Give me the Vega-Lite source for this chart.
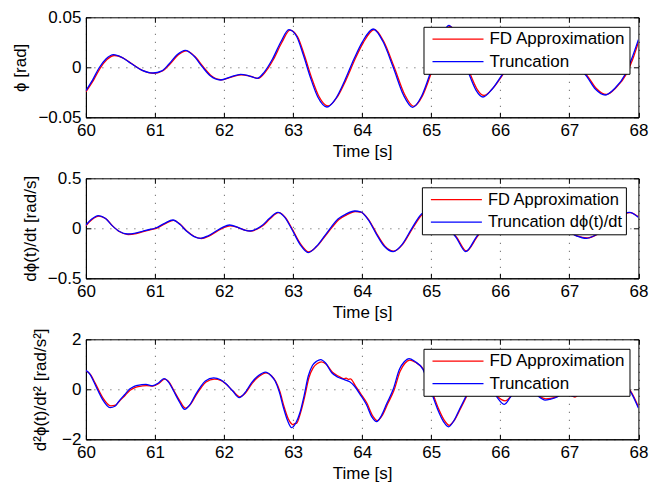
{
  "$schema": "https://vega.github.io/schema/vega-lite/v6.json",
  "autosize": {"type": "pad"},
  "padding": {"left": 10.9, "top": 7.3, "right": 5, "bottom": 5},
  "background": "white",
  "config": {
    "font": "Liberation Sans",
    "view": {"stroke": "black", "strokeWidth": 1},
    "axis": {
      "labelFont": "Liberation Sans", "labelFontSize": 17, "labelColor": "black", "labelFlush": false,
      "titleFont": "Liberation Sans", "titleFontSize": 17, "titleColor": "black", "titleFontWeight": 400,
      "domainColor": "black", "tickColor": "black", "tickSize": -5, "labelPadding": 10,
      "grid": true, "gridColor": "#000000", "gridOpacity": 0.7, "gridDash": [1, 7], "gridWidth": 1
    },
    "legend": {
      "orient": "none", "legendX": 337.6, "legendY": 9.5,
      "fillColor": "white", "strokeColor": "black", "padding": 3,
      "symbolType": "stroke", "symbolSize": 2601, "symbolStrokeWidth": 1.3,
      "symbolOffset": 5, "labelOffset": 5, "clipHeight": 18.5, "rowPadding": 3.5,
      "labelFont": "Liberation Sans", "labelFontSize": 17, "labelColor": "black", "labelLimit": 400
    }
  },
  "datasets": {
    "p1": [
      {"t":60.00,"v":-0.0245,"s":"FD Approximation"},{"t":60.115,"v":-0.0123,"s":"FD Approximation"},{"t":60.205,"v":-0.0010,"s":"FD Approximation"},{"t":60.305,"v":0.0078,"s":"FD Approximation"},{"t":60.415,"v":0.0118,"s":"FD Approximation"},{"t":60.535,"v":0.0095,"s":"FD Approximation"},{"t":60.665,"v":0.0035,"s":"FD Approximation"},{"t":60.815,"v":-0.0030,"s":"FD Approximation"},{"t":60.985,"v":-0.0060,"s":"FD Approximation"},{"t":61.115,"v":-0.0035,"s":"FD Approximation"},{"t":61.215,"v":0.0030,"s":"FD Approximation"},{"t":61.335,"v":0.0122,"s":"FD Approximation"},{"t":61.455,"v":0.0165,"s":"FD Approximation"},{"t":61.575,"v":0.0110,"s":"FD Approximation"},{"t":61.695,"v":0.0008,"s":"FD Approximation"},{"t":61.815,"v":-0.0085,"s":"FD Approximation"},{"t":61.965,"v":-0.0125,"s":"FD Approximation"},{"t":62.115,"v":-0.0095,"s":"FD Approximation"},{"t":62.255,"v":-0.0075,"s":"FD Approximation"},{"t":62.375,"v":-0.0088,"s":"FD Approximation"},{"t":62.495,"v":-0.0110,"s":"FD Approximation"},{"t":62.595,"v":-0.0050,"s":"FD Approximation"},{"t":62.715,"v":0.0078,"s":"FD Approximation"},{"t":62.835,"v":0.0245,"s":"FD Approximation"},{"t":62.955,"v":0.0372,"s":"FD Approximation"},{"t":63.065,"v":0.0305,"s":"FD Approximation"},{"t":63.165,"v":0.0118,"s":"FD Approximation"},{"t":63.265,"v":-0.0098,"s":"FD Approximation"},{"t":63.375,"v":-0.0292,"s":"FD Approximation"},{"t":63.505,"v":-0.0387,"s":"FD Approximation"},{"t":63.635,"v":-0.0302,"s":"FD Approximation"},{"t":63.765,"v":-0.0128,"s":"FD Approximation"},{"t":63.895,"v":0.0078,"s":"FD Approximation"},{"t":64.015,"v":0.0245,"s":"FD Approximation"},{"t":64.175,"v":0.0378,"s":"FD Approximation"},{"t":64.315,"v":0.0255,"s":"FD Approximation"},{"t":64.465,"v":0.0000,"s":"FD Approximation"},{"t":64.615,"v":-0.0272,"s":"FD Approximation"},{"t":64.745,"v":-0.0390,"s":"FD Approximation"},{"t":64.875,"v":-0.0283,"s":"FD Approximation"},{"t":64.995,"v":-0.0068,"s":"FD Approximation"},{"t":65.115,"v":0.0195,"s":"FD Approximation"},{"t":65.275,"v":0.0410,"s":"FD Approximation"},{"t":65.415,"v":0.0245,"s":"FD Approximation"},{"t":65.565,"v":-0.0068,"s":"FD Approximation"},{"t":65.665,"v":-0.0220,"s":"FD Approximation"},{"t":65.765,"v":-0.0282,"s":"FD Approximation"},{"t":65.895,"v":-0.0208,"s":"FD Approximation"},{"t":66.045,"v":-0.0065,"s":"FD Approximation"},{"t":66.215,"v":0.0125,"s":"FD Approximation"},{"t":66.415,"v":0.0255,"s":"FD Approximation"},{"t":66.615,"v":0.0245,"s":"FD Approximation"},{"t":66.815,"v":0.0118,"s":"FD Approximation"},{"t":67.015,"v":0.0055,"s":"FD Approximation"},{"t":67.135,"v":0.0000,"s":"FD Approximation"},{"t":67.255,"v":-0.0080,"s":"FD Approximation"},{"t":67.395,"v":-0.0215,"s":"FD Approximation"},{"t":67.535,"v":-0.0272,"s":"FD Approximation"},{"t":67.675,"v":-0.0205,"s":"FD Approximation"},{"t":67.825,"v":-0.0068,"s":"FD Approximation"},{"t":67.915,"v":0.0075,"s":"FD Approximation"},{"t":68.00,"v":0.0250,"s":"FD Approximation"},
      {"t":60.00,"v":-0.0233,"s":"Truncation"},{"t":60.10,"v":-0.0123,"s":"Truncation"},{"t":60.19,"v":-0.0007,"s":"Truncation"},{"t":60.29,"v":0.0083,"s":"Truncation"},{"t":60.40,"v":0.0127,"s":"Truncation"},{"t":60.52,"v":0.0100,"s":"Truncation"},{"t":60.65,"v":0.0040,"s":"Truncation"},{"t":60.80,"v":-0.0025,"s":"Truncation"},{"t":60.97,"v":-0.0057,"s":"Truncation"},{"t":61.10,"v":-0.0035,"s":"Truncation"},{"t":61.20,"v":0.0030,"s":"Truncation"},{"t":61.32,"v":0.0125,"s":"Truncation"},{"t":61.44,"v":0.0170,"s":"Truncation"},{"t":61.56,"v":0.0115,"s":"Truncation"},{"t":61.68,"v":0.0010,"s":"Truncation"},{"t":61.80,"v":-0.0085,"s":"Truncation"},{"t":61.95,"v":-0.0127,"s":"Truncation"},{"t":62.10,"v":-0.0095,"s":"Truncation"},{"t":62.24,"v":-0.0070,"s":"Truncation"},{"t":62.36,"v":-0.0085,"s":"Truncation"},{"t":62.48,"v":-0.0110,"s":"Truncation"},{"t":62.58,"v":-0.0050,"s":"Truncation"},{"t":62.70,"v":0.0080,"s":"Truncation"},{"t":62.82,"v":0.0250,"s":"Truncation"},{"t":62.94,"v":0.0377,"s":"Truncation"},{"t":63.05,"v":0.0310,"s":"Truncation"},{"t":63.15,"v":0.0120,"s":"Truncation"},{"t":63.25,"v":-0.0100,"s":"Truncation"},{"t":63.36,"v":-0.0300,"s":"Truncation"},{"t":63.49,"v":-0.0397,"s":"Truncation"},{"t":63.62,"v":-0.0310,"s":"Truncation"},{"t":63.75,"v":-0.0130,"s":"Truncation"},{"t":63.88,"v":0.0080,"s":"Truncation"},{"t":64.00,"v":0.0250,"s":"Truncation"},{"t":64.16,"v":0.0383,"s":"Truncation"},{"t":64.30,"v":0.0260,"s":"Truncation"},{"t":64.45,"v":0.0000,"s":"Truncation"},{"t":64.60,"v":-0.0280,"s":"Truncation"},{"t":64.73,"v":-0.0400,"s":"Truncation"},{"t":64.86,"v":-0.0290,"s":"Truncation"},{"t":64.98,"v":-0.0070,"s":"Truncation"},{"t":65.10,"v":0.0200,"s":"Truncation"},{"t":65.26,"v":0.0420,"s":"Truncation"},{"t":65.40,"v":0.0250,"s":"Truncation"},{"t":65.55,"v":-0.0070,"s":"Truncation"},{"t":65.65,"v":-0.0230,"s":"Truncation"},{"t":65.75,"v":-0.0297,"s":"Truncation"},{"t":65.88,"v":-0.0220,"s":"Truncation"},{"t":66.03,"v":-0.0070,"s":"Truncation"},{"t":66.20,"v":0.0130,"s":"Truncation"},{"t":66.40,"v":0.0260,"s":"Truncation"},{"t":66.60,"v":0.0250,"s":"Truncation"},{"t":66.80,"v":0.0120,"s":"Truncation"},{"t":67.00,"v":0.0060,"s":"Truncation"},{"t":67.12,"v":0.0000,"s":"Truncation"},{"t":67.24,"v":-0.0080,"s":"Truncation"},{"t":67.38,"v":-0.0220,"s":"Truncation"},{"t":67.52,"v":-0.0277,"s":"Truncation"},{"t":67.66,"v":-0.0210,"s":"Truncation"},{"t":67.81,"v":-0.0070,"s":"Truncation"},{"t":67.90,"v":0.0080,"s":"Truncation"},{"t":68.00,"v":0.0277,"s":"Truncation"}
    ],
    "p2": [
      {"t":60.00,"v":0.025,"s":"FD Approximation"},{"t":60.09,"v":0.088,"s":"FD Approximation"},{"t":60.19,"v":0.122,"s":"FD Approximation"},{"t":60.29,"v":0.095,"s":"FD Approximation"},{"t":60.39,"v":0.022,"s":"FD Approximation"},{"t":60.49,"v":-0.035,"s":"FD Approximation"},{"t":60.61,"v":-0.062,"s":"FD Approximation"},{"t":60.73,"v":-0.052,"s":"FD Approximation"},{"t":60.83,"v":-0.033,"s":"FD Approximation"},{"t":60.93,"v":-0.015,"s":"FD Approximation"},{"t":61.02,"v":0.000,"s":"FD Approximation"},{"t":61.15,"v":0.047,"s":"FD Approximation"},{"t":61.27,"v":0.080,"s":"FD Approximation"},{"t":61.37,"v":0.037,"s":"FD Approximation"},{"t":61.47,"v":-0.033,"s":"FD Approximation"},{"t":61.57,"v":-0.082,"s":"FD Approximation"},{"t":61.67,"v":-0.102,"s":"FD Approximation"},{"t":61.78,"v":-0.078,"s":"FD Approximation"},{"t":61.89,"v":-0.033,"s":"FD Approximation"},{"t":61.99,"v":0.005,"s":"FD Approximation"},{"t":62.09,"v":0.025,"s":"FD Approximation"},{"t":62.21,"v":0.005,"s":"FD Approximation"},{"t":62.31,"v":-0.020,"s":"FD Approximation"},{"t":62.39,"v":-0.028,"s":"FD Approximation"},{"t":62.47,"v":-0.012,"s":"FD Approximation"},{"t":62.56,"v":0.025,"s":"FD Approximation"},{"t":62.67,"v":0.097,"s":"FD Approximation"},{"t":62.79,"v":0.156,"s":"FD Approximation"},{"t":62.89,"v":0.107,"s":"FD Approximation"},{"t":62.99,"v":-0.010,"s":"FD Approximation"},{"t":63.11,"v":-0.158,"s":"FD Approximation"},{"t":63.23,"v":-0.236,"s":"FD Approximation"},{"t":63.35,"v":-0.176,"s":"FD Approximation"},{"t":63.47,"v":-0.072,"s":"FD Approximation"},{"t":63.57,"v":0.015,"s":"FD Approximation"},{"t":63.66,"v":0.085,"s":"FD Approximation"},{"t":63.77,"v":0.132,"s":"FD Approximation"},{"t":63.90,"v":0.168,"s":"FD Approximation"},{"t":63.99,"v":0.160,"s":"FD Approximation"},{"t":64.10,"v":0.080,"s":"FD Approximation"},{"t":64.21,"v":-0.052,"s":"FD Approximation"},{"t":64.33,"v":-0.178,"s":"FD Approximation"},{"t":64.46,"v":-0.228,"s":"FD Approximation"},{"t":64.59,"v":-0.158,"s":"FD Approximation"},{"t":64.73,"v":-0.002,"s":"FD Approximation"},{"t":64.87,"v":0.138,"s":"FD Approximation"},{"t":64.99,"v":0.175,"s":"FD Approximation"},{"t":65.11,"v":0.117,"s":"FD Approximation"},{"t":65.23,"v":0.018,"s":"FD Approximation"},{"t":65.37,"v":-0.090,"s":"FD Approximation"},{"t":65.51,"v":-0.226,"s":"FD Approximation"},{"t":65.66,"v":-0.090,"s":"FD Approximation"},{"t":65.81,"v":0.048,"s":"FD Approximation"},{"t":65.96,"v":0.145,"s":"FD Approximation"},{"t":66.16,"v":0.175,"s":"FD Approximation"},{"t":66.36,"v":0.098,"s":"FD Approximation"},{"t":66.56,"v":0.020,"s":"FD Approximation"},{"t":66.76,"v":0.008,"s":"FD Approximation"},{"t":66.96,"v":-0.022,"s":"FD Approximation"},{"t":67.11,"v":-0.075,"s":"FD Approximation"},{"t":67.26,"v":-0.096,"s":"FD Approximation"},{"t":67.41,"v":-0.058,"s":"FD Approximation"},{"t":67.56,"v":0.020,"s":"FD Approximation"},{"t":67.71,"v":0.106,"s":"FD Approximation"},{"t":67.88,"v":0.156,"s":"FD Approximation"},{"t":68.00,"v":0.115,"s":"FD Approximation"},
      {"t":60.00,"v":0.033,"s":"Truncation dϕ(t)/dt"},{"t":60.08,"v":0.090,"s":"Truncation dϕ(t)/dt"},{"t":60.18,"v":0.127,"s":"Truncation dϕ(t)/dt"},{"t":60.28,"v":0.100,"s":"Truncation dϕ(t)/dt"},{"t":60.38,"v":0.027,"s":"Truncation dϕ(t)/dt"},{"t":60.48,"v":-0.030,"s":"Truncation dϕ(t)/dt"},{"t":60.60,"v":-0.057,"s":"Truncation dϕ(t)/dt"},{"t":60.72,"v":-0.048,"s":"Truncation dϕ(t)/dt"},{"t":60.82,"v":-0.030,"s":"Truncation dϕ(t)/dt"},{"t":60.92,"v":-0.012,"s":"Truncation dϕ(t)/dt"},{"t":61.01,"v":0.003,"s":"Truncation dϕ(t)/dt"},{"t":61.14,"v":0.050,"s":"Truncation dϕ(t)/dt"},{"t":61.26,"v":0.083,"s":"Truncation dϕ(t)/dt"},{"t":61.36,"v":0.040,"s":"Truncation dϕ(t)/dt"},{"t":61.46,"v":-0.030,"s":"Truncation dϕ(t)/dt"},{"t":61.56,"v":-0.080,"s":"Truncation dϕ(t)/dt"},{"t":61.66,"v":-0.100,"s":"Truncation dϕ(t)/dt"},{"t":61.77,"v":-0.075,"s":"Truncation dϕ(t)/dt"},{"t":61.88,"v":-0.030,"s":"Truncation dϕ(t)/dt"},{"t":61.98,"v":0.010,"s":"Truncation dϕ(t)/dt"},{"t":62.08,"v":0.033,"s":"Truncation dϕ(t)/dt"},{"t":62.20,"v":0.010,"s":"Truncation dϕ(t)/dt"},{"t":62.30,"v":-0.018,"s":"Truncation dϕ(t)/dt"},{"t":62.38,"v":-0.027,"s":"Truncation dϕ(t)/dt"},{"t":62.46,"v":-0.010,"s":"Truncation dϕ(t)/dt"},{"t":62.55,"v":0.027,"s":"Truncation dϕ(t)/dt"},{"t":62.66,"v":0.100,"s":"Truncation dϕ(t)/dt"},{"t":62.78,"v":0.160,"s":"Truncation dϕ(t)/dt"},{"t":62.88,"v":0.110,"s":"Truncation dϕ(t)/dt"},{"t":62.98,"v":-0.007,"s":"Truncation dϕ(t)/dt"},{"t":63.10,"v":-0.160,"s":"Truncation dϕ(t)/dt"},{"t":63.22,"v":-0.243,"s":"Truncation dϕ(t)/dt"},{"t":63.34,"v":-0.180,"s":"Truncation dϕ(t)/dt"},{"t":63.46,"v":-0.073,"s":"Truncation dϕ(t)/dt"},{"t":63.56,"v":0.020,"s":"Truncation dϕ(t)/dt"},{"t":63.65,"v":0.093,"s":"Truncation dϕ(t)/dt"},{"t":63.76,"v":0.140,"s":"Truncation dϕ(t)/dt"},{"t":63.89,"v":0.173,"s":"Truncation dϕ(t)/dt"},{"t":63.98,"v":0.165,"s":"Truncation dϕ(t)/dt"},{"t":64.09,"v":0.083,"s":"Truncation dϕ(t)/dt"},{"t":64.20,"v":-0.050,"s":"Truncation dϕ(t)/dt"},{"t":64.32,"v":-0.180,"s":"Truncation dϕ(t)/dt"},{"t":64.45,"v":-0.233,"s":"Truncation dϕ(t)/dt"},{"t":64.58,"v":-0.160,"s":"Truncation dϕ(t)/dt"},{"t":64.72,"v":0.000,"s":"Truncation dϕ(t)/dt"},{"t":64.86,"v":0.143,"s":"Truncation dϕ(t)/dt"},{"t":64.98,"v":0.180,"s":"Truncation dϕ(t)/dt"},{"t":65.10,"v":0.120,"s":"Truncation dϕ(t)/dt"},{"t":65.22,"v":0.020,"s":"Truncation dϕ(t)/dt"},{"t":65.36,"v":-0.090,"s":"Truncation dϕ(t)/dt"},{"t":65.50,"v":-0.233,"s":"Truncation dϕ(t)/dt"},{"t":65.65,"v":-0.090,"s":"Truncation dϕ(t)/dt"},{"t":65.80,"v":0.050,"s":"Truncation dϕ(t)/dt"},{"t":65.95,"v":0.150,"s":"Truncation dϕ(t)/dt"},{"t":66.15,"v":0.180,"s":"Truncation dϕ(t)/dt"},{"t":66.35,"v":0.100,"s":"Truncation dϕ(t)/dt"},{"t":66.55,"v":0.020,"s":"Truncation dϕ(t)/dt"},{"t":66.75,"v":0.010,"s":"Truncation dϕ(t)/dt"},{"t":66.95,"v":-0.020,"s":"Truncation dϕ(t)/dt"},{"t":67.10,"v":-0.075,"s":"Truncation dϕ(t)/dt"},{"t":67.25,"v":-0.100,"s":"Truncation dϕ(t)/dt"},{"t":67.40,"v":-0.060,"s":"Truncation dϕ(t)/dt"},{"t":67.55,"v":0.020,"s":"Truncation dϕ(t)/dt"},{"t":67.70,"v":0.110,"s":"Truncation dϕ(t)/dt"},{"t":67.87,"v":0.160,"s":"Truncation dϕ(t)/dt"},{"t":68.00,"v":0.110,"s":"Truncation dϕ(t)/dt"}
    ],
    "p3": [
      {"t":60.00,"v":0.74,"s":"FD Approximation"},{"t":60.07,"v":0.58,"s":"FD Approximation"},{"t":60.13,"v":0.27,"s":"FD Approximation"},{"t":60.19,"v":-0.06,"s":"FD Approximation"},{"t":60.25,"v":-0.36,"s":"FD Approximation"},{"t":60.36,"v":-0.66,"s":"FD Approximation"},{"t":60.43,"v":-0.63,"s":"FD Approximation"},{"t":60.49,"v":-0.46,"s":"FD Approximation"},{"t":60.57,"v":-0.24,"s":"FD Approximation"},{"t":60.64,"v":-0.04,"s":"FD Approximation"},{"t":60.71,"v":0.07,"s":"FD Approximation"},{"t":60.76,"v":0.11,"s":"FD Approximation"},{"t":60.88,"v":0.15,"s":"FD Approximation"},{"t":60.97,"v":0.13,"s":"FD Approximation"},{"t":61.06,"v":0.24,"s":"FD Approximation"},{"t":61.14,"v":0.41,"s":"FD Approximation"},{"t":61.21,"v":0.27,"s":"FD Approximation"},{"t":61.28,"v":-0.08,"s":"FD Approximation"},{"t":61.36,"v":-0.46,"s":"FD Approximation"},{"t":61.44,"v":-0.75,"s":"FD Approximation"},{"t":61.52,"v":-0.58,"s":"FD Approximation"},{"t":61.60,"v":-0.21,"s":"FD Approximation"},{"t":61.67,"v":0.07,"s":"FD Approximation"},{"t":61.74,"v":0.29,"s":"FD Approximation"},{"t":61.86,"v":0.41,"s":"FD Approximation"},{"t":61.96,"v":0.35,"s":"FD Approximation"},{"t":62.03,"v":0.21,"s":"FD Approximation"},{"t":62.13,"v":-0.07,"s":"FD Approximation"},{"t":62.23,"v":-0.30,"s":"FD Approximation"},{"t":62.31,"v":-0.15,"s":"FD Approximation"},{"t":62.41,"v":0.25,"s":"FD Approximation"},{"t":62.51,"v":0.52,"s":"FD Approximation"},{"t":62.61,"v":0.66,"s":"FD Approximation"},{"t":62.69,"v":0.53,"s":"FD Approximation"},{"t":62.75,"v":0.31,"s":"FD Approximation"},{"t":62.81,"v":-0.10,"s":"FD Approximation"},{"t":62.87,"v":-0.70,"s":"FD Approximation"},{"t":62.93,"v":-1.18,"s":"FD Approximation"},{"t":62.97,"v":-1.36,"s":"FD Approximation"},{"t":63.00,"v":-1.42,"s":"FD Approximation"},{"t":63.02,"v":-1.37,"s":"FD Approximation"},{"t":63.05,"v":-1.36,"s":"FD Approximation"},{"t":63.11,"v":-0.92,"s":"FD Approximation"},{"t":63.17,"v":-0.27,"s":"FD Approximation"},{"t":63.23,"v":0.47,"s":"FD Approximation"},{"t":63.29,"v":0.86,"s":"FD Approximation"},{"t":63.35,"v":1.03,"s":"FD Approximation"},{"t":63.41,"v":1.10,"s":"FD Approximation"},{"t":63.48,"v":1.00,"s":"FD Approximation"},{"t":63.57,"v":0.68,"s":"FD Approximation"},{"t":63.66,"v":0.52,"s":"FD Approximation"},{"t":63.74,"v":0.42,"s":"FD Approximation"},{"t":63.77,"v":0.45,"s":"FD Approximation"},{"t":63.80,"v":0.40,"s":"FD Approximation"},{"t":63.83,"v":0.42,"s":"FD Approximation"},{"t":63.90,"v":0.15,"s":"FD Approximation"},{"t":63.98,"v":-0.18,"s":"FD Approximation"},{"t":64.07,"v":-0.56,"s":"FD Approximation"},{"t":64.15,"v":-1.05,"s":"FD Approximation"},{"t":64.22,"v":-1.25,"s":"FD Approximation"},{"t":64.29,"v":-1.05,"s":"FD Approximation"},{"t":64.37,"v":-0.58,"s":"FD Approximation"},{"t":64.46,"v":-0.05,"s":"FD Approximation"},{"t":64.55,"v":0.72,"s":"FD Approximation"},{"t":64.62,"v":1.04,"s":"FD Approximation"},{"t":64.69,"v":1.17,"s":"FD Approximation"},{"t":64.77,"v":1.08,"s":"FD Approximation"},{"t":64.89,"v":0.78,"s":"FD Approximation"},{"t":64.96,"v":0.30,"s":"FD Approximation"},{"t":65.04,"v":-0.30,"s":"FD Approximation"},{"t":65.11,"v":-0.80,"s":"FD Approximation"},{"t":65.19,"v":-1.24,"s":"FD Approximation"},{"t":65.26,"v":-1.44,"s":"FD Approximation"},{"t":65.34,"v":-1.22,"s":"FD Approximation"},{"t":65.42,"v":-0.80,"s":"FD Approximation"},{"t":65.51,"v":-0.30,"s":"FD Approximation"},{"t":65.61,"v":0.28,"s":"FD Approximation"},{"t":65.73,"v":0.55,"s":"FD Approximation"},{"t":65.85,"v":0.18,"s":"FD Approximation"},{"t":65.96,"v":-0.28,"s":"FD Approximation"},{"t":66.07,"v":-0.46,"s":"FD Approximation"},{"t":66.16,"v":-0.26,"s":"FD Approximation"},{"t":66.29,"v":0.18,"s":"FD Approximation"},{"t":66.41,"v":0.22,"s":"FD Approximation"},{"t":66.57,"v":-0.28,"s":"FD Approximation"},{"t":66.66,"v":-0.38,"s":"FD Approximation"},{"t":66.73,"v":-0.36,"s":"FD Approximation"},{"t":66.84,"v":-0.27,"s":"FD Approximation"},{"t":66.93,"v":-0.10,"s":"FD Approximation"},{"t":67.01,"v":-0.22,"s":"FD Approximation"},{"t":67.08,"v":-0.31,"s":"FD Approximation"},{"t":67.16,"v":-0.10,"s":"FD Approximation"},{"t":67.36,"v":0.28,"s":"FD Approximation"},{"t":67.56,"v":0.38,"s":"FD Approximation"},{"t":67.76,"v":0.18,"s":"FD Approximation"},{"t":67.89,"v":-0.08,"s":"FD Approximation"},{"t":68.00,"v":-0.70,"s":"FD Approximation"},
      {"t":60.00,"v":0.76,"s":"Truncation"},{"t":60.06,"v":0.60,"s":"Truncation"},{"t":60.12,"v":0.27,"s":"Truncation"},{"t":60.18,"v":-0.08,"s":"Truncation"},{"t":60.24,"v":-0.40,"s":"Truncation"},{"t":60.35,"v":-0.73,"s":"Truncation"},{"t":60.42,"v":-0.68,"s":"Truncation"},{"t":60.48,"v":-0.47,"s":"Truncation"},{"t":60.56,"v":-0.22,"s":"Truncation"},{"t":60.63,"v":0.00,"s":"Truncation"},{"t":60.70,"v":0.12,"s":"Truncation"},{"t":60.75,"v":0.16,"s":"Truncation"},{"t":60.87,"v":0.20,"s":"Truncation"},{"t":60.96,"v":0.14,"s":"Truncation"},{"t":61.05,"v":0.25,"s":"Truncation"},{"t":61.13,"v":0.43,"s":"Truncation"},{"t":61.20,"v":0.28,"s":"Truncation"},{"t":61.27,"v":-0.07,"s":"Truncation"},{"t":61.35,"v":-0.48,"s":"Truncation"},{"t":61.43,"v":-0.80,"s":"Truncation"},{"t":61.51,"v":-0.60,"s":"Truncation"},{"t":61.59,"v":-0.20,"s":"Truncation"},{"t":61.66,"v":0.10,"s":"Truncation"},{"t":61.73,"v":0.33,"s":"Truncation"},{"t":61.85,"v":0.46,"s":"Truncation"},{"t":61.95,"v":0.38,"s":"Truncation"},{"t":62.02,"v":0.24,"s":"Truncation"},{"t":62.12,"v":-0.05,"s":"Truncation"},{"t":62.22,"v":-0.33,"s":"Truncation"},{"t":62.30,"v":-0.15,"s":"Truncation"},{"t":62.40,"v":0.27,"s":"Truncation"},{"t":62.50,"v":0.55,"s":"Truncation"},{"t":62.60,"v":0.69,"s":"Truncation"},{"t":62.68,"v":0.55,"s":"Truncation"},{"t":62.74,"v":0.33,"s":"Truncation"},{"t":62.80,"v":-0.10,"s":"Truncation"},{"t":62.86,"v":-0.73,"s":"Truncation"},{"t":62.92,"v":-1.25,"s":"Truncation"},{"t":62.98,"v":-1.53,"s":"Truncation"},{"t":63.04,"v":-1.35,"s":"Truncation"},{"t":63.10,"v":-0.93,"s":"Truncation"},{"t":63.16,"v":-0.25,"s":"Truncation"},{"t":63.22,"v":0.53,"s":"Truncation"},{"t":63.28,"v":0.95,"s":"Truncation"},{"t":63.34,"v":1.12,"s":"Truncation"},{"t":63.40,"v":1.19,"s":"Truncation"},{"t":63.47,"v":1.05,"s":"Truncation"},{"t":63.56,"v":0.66,"s":"Truncation"},{"t":63.65,"v":0.48,"s":"Truncation"},{"t":63.75,"v":0.38,"s":"Truncation"},{"t":63.82,"v":0.30,"s":"Truncation"},{"t":63.89,"v":0.12,"s":"Truncation"},{"t":63.97,"v":-0.20,"s":"Truncation"},{"t":64.06,"v":-0.60,"s":"Truncation"},{"t":64.14,"v":-1.10,"s":"Truncation"},{"t":64.21,"v":-1.29,"s":"Truncation"},{"t":64.28,"v":-1.05,"s":"Truncation"},{"t":64.36,"v":-0.55,"s":"Truncation"},{"t":64.45,"v":0.00,"s":"Truncation"},{"t":64.54,"v":0.80,"s":"Truncation"},{"t":64.61,"v":1.10,"s":"Truncation"},{"t":64.68,"v":1.23,"s":"Truncation"},{"t":64.76,"v":1.12,"s":"Truncation"},{"t":64.88,"v":0.80,"s":"Truncation"},{"t":64.95,"v":0.30,"s":"Truncation"},{"t":65.03,"v":-0.33,"s":"Truncation"},{"t":65.10,"v":-0.85,"s":"Truncation"},{"t":65.18,"v":-1.30,"s":"Truncation"},{"t":65.25,"v":-1.50,"s":"Truncation"},{"t":65.33,"v":-1.25,"s":"Truncation"},{"t":65.41,"v":-0.80,"s":"Truncation"},{"t":65.50,"v":-0.30,"s":"Truncation"},{"t":65.60,"v":0.30,"s":"Truncation"},{"t":65.72,"v":0.60,"s":"Truncation"},{"t":65.84,"v":0.20,"s":"Truncation"},{"t":65.95,"v":-0.30,"s":"Truncation"},{"t":66.06,"v":-0.60,"s":"Truncation"},{"t":66.15,"v":-0.30,"s":"Truncation"},{"t":66.28,"v":0.20,"s":"Truncation"},{"t":66.40,"v":0.25,"s":"Truncation"},{"t":66.56,"v":-0.30,"s":"Truncation"},{"t":66.65,"v":-0.43,"s":"Truncation"},{"t":66.72,"v":-0.40,"s":"Truncation"},{"t":66.83,"v":-0.30,"s":"Truncation"},{"t":66.92,"v":-0.10,"s":"Truncation"},{"t":67.00,"v":-0.20,"s":"Truncation"},{"t":67.07,"v":-0.28,"s":"Truncation"},{"t":67.15,"v":-0.10,"s":"Truncation"},{"t":67.35,"v":0.30,"s":"Truncation"},{"t":67.55,"v":0.40,"s":"Truncation"},{"t":67.75,"v":0.20,"s":"Truncation"},{"t":67.88,"v":-0.07,"s":"Truncation"},{"t":68.00,"v":-0.75,"s":"Truncation"}
    ]
  },
  "vconcat": [
    {
      "width": 552.5, "height": 100,
      "data": {"name": "p1"},
      "layer": [
        {
          "mark": {"type": "line", "interpolate": "monotone", "strokeWidth": 1.3, "clip": true},
          "encoding": {
            "x": {"field": "t", "type": "quantitative", "scale": {"domain": [60, 68], "nice": false, "zero": false},
                  "axis": {"values": [60,61,62,63,64,65,66,67,68], "title": "Time [s]", "titlePadding": 5, "titleFontWeight": 400}},
            "y": {"field": "v", "type": "quantitative", "scale": {"domain": [-0.05, 0.05], "nice": false, "zero": false},
                  "axis": {"values": [-0.05, 0, 0.05], "format": "~g", "title": "ϕ [rad]", "titleFontWeight": 400, "titleX": -56.5, "titleY": 50}},
            "color": {"field": "s", "type": "nominal", "sort": null,
                      "scale": {"domain": ["FD Approximation", "Truncation"], "range": ["#ff0000", "#0000ff"]},
                      "legend": {"title": null, "legendX": 337.6}}
          }
        },
        {
          "mark": {"type": "line", "opacity": 0},
          "encoding": {
            "x": {"field": "t", "type": "quantitative", "axis": {"orient": "top", "values": [60,61,62,63,64,65,66,67,68], "labels": false, "title": null, "grid": false, "domain": false}},
            "y": {"field": "v", "type": "quantitative", "axis": {"orient": "right", "values": [-0.05, 0, 0.05], "labels": false, "title": null, "grid": false, "domain": false}},
            "detail": {"field": "s"}
          }
        }
      ],
      "resolve": {"axis": {"x": "independent", "y": "independent"}}
    },
    {
      "width": 552.5, "height": 100,
      "data": {"name": "p2"},
      "layer": [
        {
          "mark": {"type": "line", "interpolate": "monotone", "strokeWidth": 1.3, "clip": true},
          "encoding": {
            "x": {"field": "t", "type": "quantitative", "scale": {"domain": [60, 68], "nice": false, "zero": false},
                  "axis": {"values": [60,61,62,63,64,65,66,67,68], "title": "Time [s]", "titlePadding": 5, "titleFontWeight": 400}},
            "y": {"field": "v", "type": "quantitative", "scale": {"domain": [-0.5, 0.5], "nice": false, "zero": false},
                  "axis": {"values": [-0.5, 0, 0.5], "format": "~g", "title": "dϕ(t)/dt [rad/s]", "titleFontWeight": 400, "titleX": -46.5, "titleY": 50}},
            "color": {"field": "s", "type": "nominal", "sort": null,
                      "scale": {"domain": ["FD Approximation", "Truncation dϕ(t)/dt"], "range": ["#ff0000", "#0000ff"]},
                      "legend": {"title": null, "legendX": 336, "legendY": 9, "labelFontSize": 16.5}}
          }
        },
        {
          "mark": {"type": "line", "opacity": 0},
          "encoding": {
            "x": {"field": "t", "type": "quantitative", "axis": {"orient": "top", "values": [60,61,62,63,64,65,66,67,68], "labels": false, "title": null, "grid": false, "domain": false}},
            "y": {"field": "v", "type": "quantitative", "axis": {"orient": "right", "values": [-0.5, 0, 0.5], "labels": false, "title": null, "grid": false, "domain": false}},
            "detail": {"field": "s"}
          }
        }
      ],
      "resolve": {"axis": {"x": "independent", "y": "independent"}}
    },
    {
      "width": 552.5, "height": 100,
      "data": {"name": "p3"},
      "layer": [
        {
          "mark": {"type": "line", "interpolate": "monotone", "strokeWidth": 1.3, "clip": true},
          "encoding": {
            "x": {"field": "t", "type": "quantitative", "scale": {"domain": [60, 68], "nice": false, "zero": false},
                  "axis": {"values": [60,61,62,63,64,65,66,67,68], "title": "Time [s]", "titlePadding": 5, "titleFontWeight": 400}},
            "y": {"field": "v", "type": "quantitative", "scale": {"domain": [-2, 2], "nice": false, "zero": false},
                  "axis": {"values": [-2, 0, 2], "format": "~g", "title": "d²ϕ(t)/dt² [rad/s²]", "titleFontWeight": 400, "titleX": -36, "titleY": 50}},
            "color": {"field": "s", "type": "nominal", "sort": null,
                      "scale": {"domain": ["FD Approximation", "Truncation"], "range": ["#ff0000", "#0000ff"]},
                      "legend": {"title": null, "legendX": 337.6}}
          }
        },
        {
          "mark": {"type": "line", "opacity": 0},
          "encoding": {
            "x": {"field": "t", "type": "quantitative", "axis": {"orient": "top", "values": [60,61,62,63,64,65,66,67,68], "labels": false, "title": null, "grid": false, "domain": false}},
            "y": {"field": "v", "type": "quantitative", "axis": {"orient": "right", "values": [-2, 0, 2], "labels": false, "title": null, "grid": false, "domain": false}},
            "detail": {"field": "s"}
          }
        }
      ],
      "resolve": {"axis": {"x": "independent", "y": "independent"}}
    }
  ],
  "spacing": 61,
  "bounds": "flush",
  "resolve": {"scale": {"color": "independent", "x": "independent", "y": "independent"}, "legend": {"color": "independent"}}
}
